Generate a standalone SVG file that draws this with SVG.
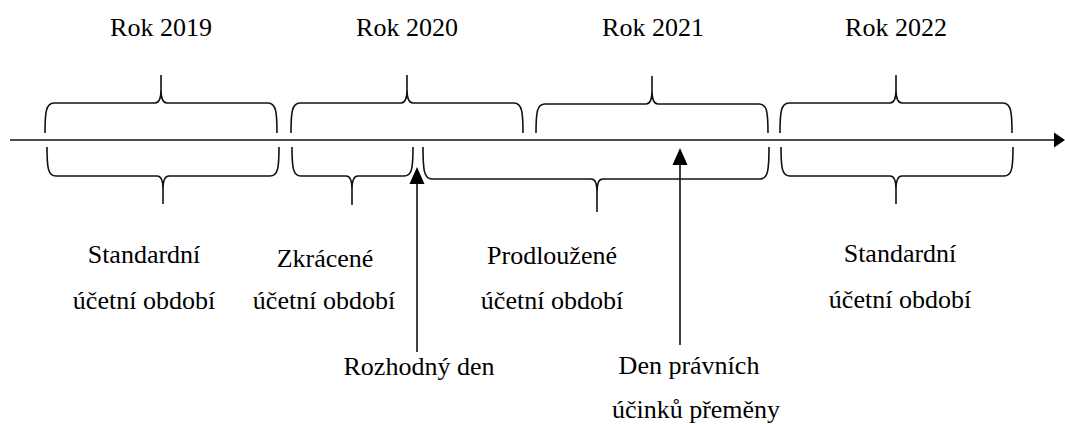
<svg xmlns="http://www.w3.org/2000/svg" width="1065" height="424" viewBox="0 0 1065 424">
  <style>
    text { font-family: "Liberation Serif", "Times New Roman", serif; font-size: 26px; fill: #000; text-anchor: middle; }
    .brace { fill: none; stroke: #111; stroke-width: 1.6; }
    .line { fill: none; stroke: #111; stroke-width: 1.6; }
    .head { fill: #000; stroke: none; }
  </style>
  <rect width="1065" height="424" fill="#fff"/>

  <!-- year labels -->
  <g id="years">
    <text x="161" y="36">Rok 2019</text>
    <text x="407" y="36">Rok 2020</text>
    <text x="653" y="36">Rok 2021</text>
    <text x="896" y="36">Rok 2022</text>
  </g>

  <!-- connectors: time axis and event arrows -->
  <g id="connectors">
    <line class="line" x1="10" y1="140" x2="1056" y2="140"/>
    <polygon class="head" points="1065,140 1054,132.5 1054,147.5"/>
    <line class="line" x1="417" y1="352" x2="417" y2="180"/>
    <polygon class="head" points="417,167 409.5,184 424.5,184"/>
    <line class="line" x1="680" y1="345" x2="680" y2="160"/>
    <polygon class="head" points="680,148 672.5,165 687.5,165"/>
  </g>

  <!-- calendar-year braces above the axis -->
  <g id="year-braces">
    <path class="brace" d="M45,133 C45,112 46,103 54,103 L155,103 C159,103 161,100 161,90 L161,75 M161,90 C161,100 163,103 167,103 L268,103 C276,103 277,112 277,133"/>
    <path class="brace" d="M291,133 C291,112 292,103 300,103 L401,103 C405,103 407,100 407,90 L407,75 M407,90 C407,100 409,103 413,103 L514,103 C522,103 523,112 523,133"/>
    <path class="brace" d="M536,133 C536,112 537,104 545,104 L646,104 C650,104 652,101 652,91 L652,76 M652,91 C652,101 654,104 658,104 L759,104 C767,104 768,112 768,133"/>
    <path class="brace" d="M780,133 C780,112 781,103 789,103 L890,103 C894,103 896,100 896,90 L896,75 M896,90 C896,100 898,103 902,103 L1003,103 C1011,103 1012,112 1012,133"/>
  </g>

  <!-- accounting-period braces below the axis -->
  <g id="period-standard-2019">
    <path class="brace" d="M47,147 C47,168 48,176 56,176 L157,176 C161,176 163,179 163,189 L163,204 M163,189 C163,179 165,176 169,176 L270,176 C278,176 279,168 279,147"/>
    <text x="144" y="263">Standardní</text>
    <text x="144" y="309">účetní období</text>
  </g>

  <g id="period-short">
    <path class="brace" d="M292,147 C292,168 293,176 301,176 L346,176 C350,176 352,179 352,189 L352,205 M352,189 C352,179 354,176 358,176 L404,176 C412,176 413,168 413,147"/>
    <text x="325" y="267">Zkrácené</text>
    <text x="324" y="309">účetní období</text>
  </g>

  <g id="period-extended">
    <path class="brace" d="M423,147 C423,170 424,179 432,179 L591,179 C595,179 597,182 597,194 L597,212 M597,194 C597,182 599,179 603,179 L760,179 C768,179 769,170 769,147"/>
    <text x="552" y="264">Prodloužené</text>
    <text x="552" y="309">účetní období</text>
  </g>

  <g id="period-standard-2022">
    <path class="brace" d="M781,147 C781,168 782,176 790,176 L890,176 C894,176 896,179 896,189 L896,204 M896,189 C896,179 898,176 902,176 L1004,176 C1012,176 1013,168 1013,147"/>
    <text x="900" y="262">Standardní</text>
    <text x="900" y="308">účetní období</text>
  </g>

  <!-- event labels -->
  <g id="event-decision-day">
    <text x="419" y="375">Rozhodný den</text>
  </g>
  <g id="event-effective-day">
    <text x="689" y="374">Den právních</text>
    <text x="696" y="418">účinků přeměny</text>
  </g>
</svg>
